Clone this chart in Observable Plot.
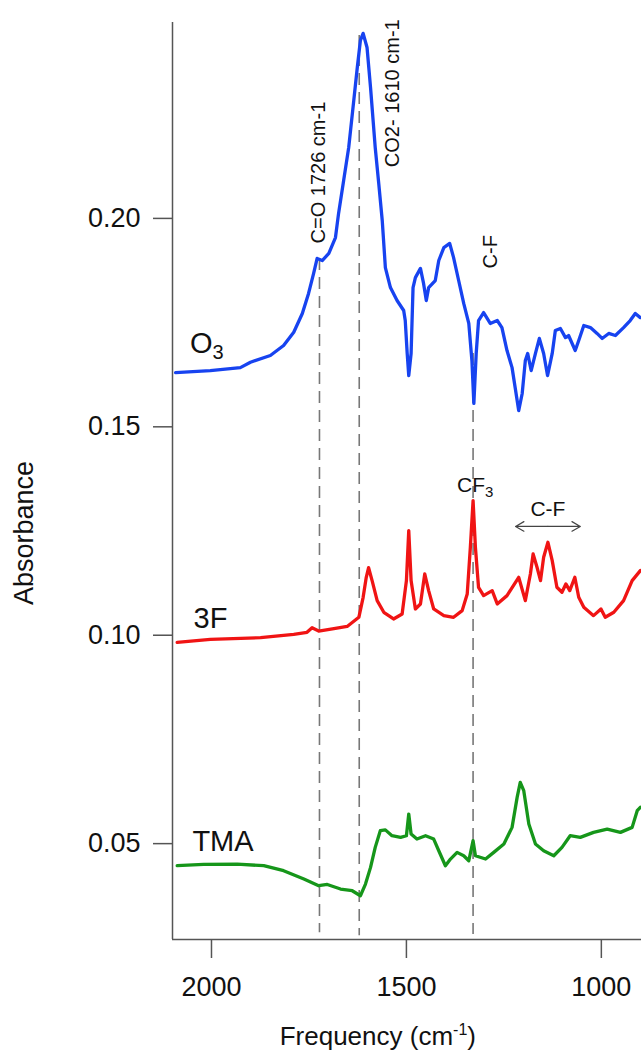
<!DOCTYPE html>
<html><head><meta charset="utf-8">
<script src="https://cdn.jsdelivr.net/npm/d3@7"></script>
<script src="https://cdn.jsdelivr.net/npm/@observablehq/plot@0.6"></script>
<style>html,body{margin:0;padding:0;background:#fff;} svg{display:block}</style>
</head><body><div id="chart"></div>
<script>
// ---- data ----
const o3Wn = [2092,2003,1926,1900,1849,1815,1789,1767,1751,1738,1729,1716,1699,1682,1674,1661,1648,1635,1626,1618,1611,1601,1592,1580,1571,1562,1554,1541,1524,1507,1503,1498,1494,1488,1483,1477,1464,1456,1449,1443,1426,1417,1404,1389,1379,1366,1353,1340,1332,1327,1321,1315,1302,1285,1267,1255,1242,1229,1221,1212,1203,1195,1189,1180,1169,1159,1148,1138,1126,1118,1105,1092,1084,1067,1058,1045,1028,1011,998,981,964,943,926,913,900];
const o3Abs = [0.1630,0.1635,0.1642,0.1655,0.1671,0.1695,0.1727,0.1772,0.1820,0.1868,0.1904,0.1899,0.1916,0.1954,0.2012,0.2091,0.2170,0.2283,0.2362,0.2427,0.2444,0.2410,0.2314,0.2170,0.2084,0.1995,0.1882,0.1834,0.1803,0.1779,0.1755,0.1676,0.1623,0.1676,0.1834,0.1858,0.1880,0.1844,0.1803,0.1834,0.1851,0.1899,0.1930,0.1940,0.1906,0.1851,0.1796,0.1748,0.1659,0.1556,0.1676,0.1755,0.1774,0.1748,0.1755,0.1738,0.1683,0.1642,0.1594,0.1539,0.1580,0.1659,0.1676,0.1635,0.1676,0.1712,0.1676,0.1623,0.1676,0.1731,0.1736,0.1714,0.1719,0.1683,0.1707,0.1743,0.1738,0.1724,0.1712,0.1724,0.1719,0.1738,0.1755,0.1772,0.1762];

const f3Wn = [2088,2003,1874,1789,1755,1742,1725,1686,1652,1622,1611,1603,1597,1588,1575,1558,1533,1511,1500,1494,1488,1477,1464,1453,1443,1430,1404,1379,1357,1344,1336,1329,1323,1315,1302,1280,1267,1242,1212,1195,1182,1175,1165,1156,1148,1137,1126,1114,1101,1091,1081,1068,1058,1045,1020,1001,990,968,943,921,900];
const f3Abs = [0.0983,0.0990,0.0994,0.1002,0.1007,0.1018,0.1010,0.1016,0.1021,0.1043,0.1091,0.1139,0.1162,0.1131,0.1083,0.1055,0.1039,0.1051,0.1131,0.1251,0.1131,0.1063,0.1075,0.1147,0.1107,0.1063,0.1047,0.1043,0.1059,0.1099,0.1211,0.1323,0.1211,0.1115,0.1095,0.1107,0.1075,0.1095,0.1139,0.1083,0.1147,0.1195,0.1163,0.1131,0.1187,0.1223,0.1179,0.1115,0.1103,0.1123,0.1107,0.1139,0.1091,0.1067,0.1047,0.1063,0.1043,0.1055,0.1083,0.1131,0.1155];

const tmaWn = [2088,2020,1934,1866,1815,1763,1725,1703,1669,1639,1618,1605,1592,1580,1567,1554,1537,1515,1500,1494,1488,1473,1451,1430,1417,1400,1387,1370,1353,1340,1329,1323,1297,1276,1250,1229,1216,1208,1199,1186,1169,1148,1122,1101,1080,1054,1020,985,951,921,908,900];
const tmaAbs = [0.0447,0.0450,0.0451,0.0447,0.0435,0.0415,0.0399,0.0402,0.0391,0.0387,0.0375,0.0403,0.0443,0.0491,0.0531,0.0533,0.0519,0.0515,0.0519,0.0571,0.0523,0.0511,0.0519,0.0511,0.0483,0.0447,0.0463,0.0479,0.0471,0.0459,0.0507,0.0471,0.0463,0.0479,0.0499,0.0539,0.0611,0.0647,0.0627,0.0547,0.0499,0.0483,0.0471,0.0491,0.0519,0.0515,0.0527,0.0535,0.0527,0.0539,0.0579,0.0587];

const xTicks = [2000, 1500, 1000];
const yTicks = [0.05, 0.10, 0.15, 0.20];

// vertical dashed marker lines (wavenumber, top, bottom)
const markerWn = [1723, 1621, 1329];
const markerTop = [0.1904, 0.2439, 0.1676];
const markerBottom = [0.0286, 0.0279, 0.0282];

// series labels
const seriesLabels = ["3F", "TMA"];
const seriesLabelWn = [2046, 2049];
const seriesLabelAbs = [0.1018, 0.0483];

// rotated peak annotations
const peakText = ["C=O 1726 cm-1", "CO2- 1610 cm-1", "C-F"];
const peakTextWn = [1726, 1535, 1285];
const peakTextAbs = [0.194, 0.2123, 0.188];

// C-F range arrow
const cfText = "C-F";
const cfMid = 1137, cfLeft = 1220, cfRight = 1054, cfArrowAbs = 0.1261, cfTextAbs = 0.1287;

const colors = {O3: "#1743f0", "3F": "#f01414", TMA: "#16961a"};

const rows = [
  ...o3Wn.map((w, i) => ({s: "O3", w, a: o3Abs[i]})),
  ...f3Wn.map((w, i) => ({s: "3F", w, a: f3Abs[i]})),
  ...tmaWn.map((w, i) => ({s: "TMA", w, a: tmaAbs[i]}))
];
const markers = markerWn.map((w, i) => ({w, t: markerTop[i], b: markerBottom[i]}));
const labels = seriesLabels.map((t, i) => ({t, w: seriesLabelWn[i], a: seriesLabelAbs[i]}));
const peaks = peakText.map((t, i) => ({t, w: peakTextWn[i], a: peakTextAbs[i]}));
const arrows = [{x1: cfMid, x2: cfLeft}, {x1: cfMid, x2: cfRight}];

const FONT = "'Liberation Sans', Arial, Helvetica, sans-serif";

const plot = Plot.plot({
  width: 641, height: 1053,
  marginLeft: 172, marginRight: 0, marginTop: 22, marginBottom: 114,
  x: {domain: [2100, 897]},
  y: {domain: [0.027, 0.247]},
  style: {fontFamily: FONT, fontSize: "27px", background: "#fff", color: "#111"},
  marks: [
    Plot.axisX({ticks: xTicks, tickSize: 19, tickPadding: 18, tickFormat: d3.format("d"), label: null, stroke: "#555", strokeWidth: 1.5, fontSize: 27}),
    Plot.axisY({ticks: yTicks, tickSize: 19, tickPadding: 13, tickFormat: d3.format(".2f"), label: null, stroke: "#555", strokeWidth: 1.5, fontSize: 27}),
    Plot.ruleX([2100], {stroke: "#555", strokeWidth: 1.5}),
    Plot.ruleY([0.027], {stroke: "#555", strokeWidth: 1.5}),
    Plot.ruleX(markers, {x: "w", y1: "t", y2: "b", stroke: "#777", strokeWidth: 1.6, strokeDasharray: "12,7"}),
    Plot.line(rows, {x: "w", y: "a", z: "s", stroke: d => colors[d.s], strokeWidth: 3.3, curve: "linear"}),
    Plot.text(labels, {x: "w", y: "a", text: "t", textAnchor: "start", lineAnchor: "bottom", fontSize: 29, fill: "#111"}),
    Plot.text(peaks, {x: "w", y: "a", text: "t", rotate: -90, textAnchor: "start", lineAnchor: "middle", fontSize: 20, fill: "#111"}),
    Plot.text([cfText], {x: cfMid, y: cfTextAbs, text: d => d, textAnchor: "middle", lineAnchor: "bottom", fontSize: 21, fill: "#111"}),
    Plot.arrow(arrows, {x1: "x1", x2: "x2", y1: cfArrowAbs, y2: cfArrowAbs, stroke: "#444", strokeWidth: 1.2, headLength: 12, headAngle: 60})
  ]
});

const sx = plot.scale("x"), sy = plot.scale("y");
const svg = d3.select(plot);

// O3 label with subscript
const o3t = svg.append("text").attr("x", sx.apply(2054)).attr("y", sy.apply(0.1676))
  .attr("text-anchor", "start").attr("font-family", FONT).attr("font-size", 29).attr("fill", "#111");
o3t.append("tspan").text("O");
o3t.append("tspan").attr("font-size", 20).attr("dy", 6).text("3");

// CF3 label with subscript
const cft = svg.append("text").attr("x", sx.apply(1369)).attr("y", sy.apply(0.1342))
  .attr("text-anchor", "start").attr("font-family", FONT).attr("font-size", 21).attr("fill", "#111");
cft.append("tspan").text("CF");
cft.append("tspan").attr("font-size", 15).attr("dy", 5).text("3");

// x axis label with superscript
const xl = svg.append("text").attr("x", sx.apply(1572)).attr("y", 1045)
  .attr("text-anchor", "middle").attr("font-family", FONT).attr("font-size", 26).attr("fill", "#111");
xl.append("tspan").text("Frequency (cm");
xl.append("tspan").attr("font-size", 16).attr("dy", -10).text("-1");
xl.append("tspan").attr("dy", 10).text(")");

// y axis label
svg.append("text").attr("transform", `translate(33,${sy.apply(0.1244)}) rotate(-90)`)
  .attr("text-anchor", "middle").attr("font-family", FONT).attr("font-size", 27).attr("fill", "#111")
  .text("Absorbance");

document.getElementById("chart").appendChild(plot);
</script>
</body></html>
